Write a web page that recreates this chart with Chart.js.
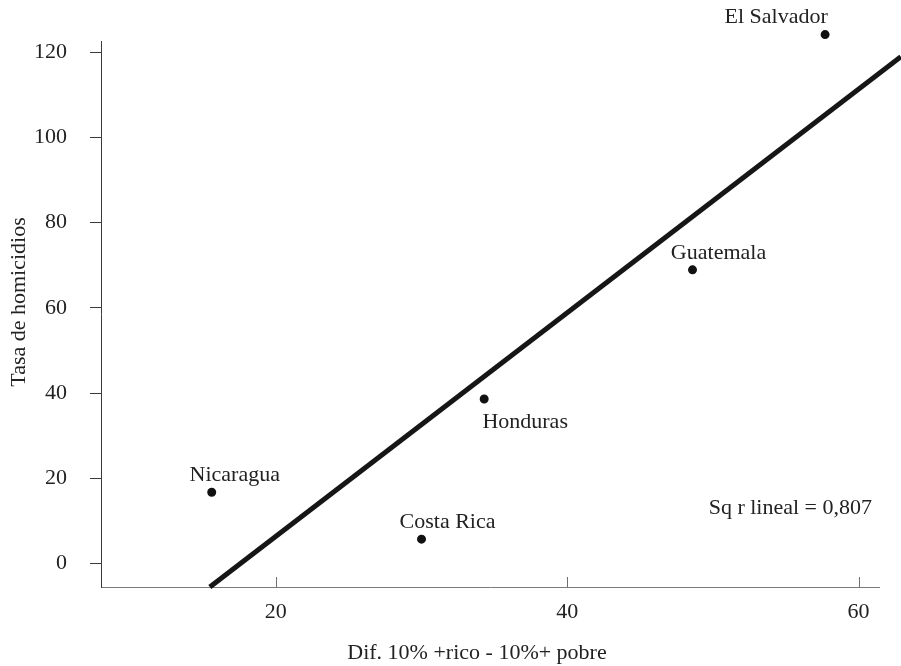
<!DOCTYPE html>
<html>
<head>
<meta charset="utf-8">
<script src="https://cdn.jsdelivr.net/npm/chart.js@4/dist/chart.umd.min.js"></script>
<style>
  html, body { margin: 0; padding: 0; background: #ffffff; }
  #wrap { width: 901px; height: 666px; }
</style>
</head>
<body>
<div id="wrap"><canvas id="homicidios-chart" width="901" height="666"></canvas></div>
<script>
// datos
const paises = ['El Salvador', 'Guatemala', 'Honduras', 'Nicaragua', 'Costa Rica'];
const difRicoPobre = [57.7, 48.6, 34.3, 15.6, 30.0];
const tasaHomicidios = [124.1, 68.9, 38.6, 16.7, 5.7];

// recta de ajuste (extremos)
const ajusteX = [15.47, 62.9];
const ajusteY = [-5.52, 118.9];

const xTicks = [20, 40, 60];
const yTicks = [0, 20, 40, 60, 80, 100, 120];

const textoR2 = 'Sq r lineal = 0,807';
const tituloX = 'Dif. 10% +rico - 10%+ pobre';
const tituloY = 'Tasa de homicidios';

const FONT = '"Liberation Serif", "DejaVu Serif", serif';
const TEXT_COLOR = '#222222';

// desplazamiento de cada etiqueta respecto a su punto (centro x, linea base y)
const offsetsEtiquetas = {
  'El Salvador': [-49, -12],
  'Guatemala': [26, -11],
  'Honduras': [41, 29],
  'Nicaragua': [23, -11],
  'Costa Rica': [26, -11],
};

const extras = {
  id: 'extras',
  afterDraw(chart) {
    const { ctx, chartArea, scales } = chart;
    const x = scales.x;
    const y = scales.y;
    ctx.save();

    // marcas del eje x hacia adentro
    ctx.strokeStyle = '#6e6e6e';
    ctx.lineWidth = 1;
    xTicks.forEach((v) => {
      const px = Math.round(x.getPixelForValue(v)) + 0.5;
      ctx.beginPath();
      ctx.moveTo(px, chartArea.bottom);
      ctx.lineTo(px, chartArea.bottom - 10);
      ctx.stroke();
    });

    ctx.fillStyle = TEXT_COLOR;
    ctx.font = '22px ' + FONT;
    ctx.textBaseline = 'alphabetic';

    // etiquetas de los puntos
    ctx.textAlign = 'center';
    paises.forEach((p, i) => {
      const off = offsetsEtiquetas[p];
      const px = x.getPixelForValue(difRicoPobre[i]);
      const py = y.getPixelForValue(tasaHomicidios[i]);
      ctx.fillText(p, px + off[0], py + off[1]);
    });

    // R cuadrado
    ctx.textAlign = 'right';
    ctx.fillText(textoR2, 872, 514);

    // titulos de ejes
    ctx.textAlign = 'center';
    ctx.fillText(tituloX, 477, 659);

    ctx.translate(25, 302);
    ctx.rotate(-Math.PI / 2);
    ctx.fillText(tituloY, 0, 0);

    ctx.restore();
  },
};

new Chart(document.getElementById('homicidios-chart'), {
  type: 'scatter',
  data: {
    datasets: [
      {
        label: 'Paises',
        data: paises.map((p, i) => ({ x: difRicoPobre[i], y: tasaHomicidios[i] })),
        backgroundColor: '#111111',
        borderColor: '#111111',
        // radio pequeño + borde ancho: asi El Salvador (fuera del area) se sigue dibujando
        pointRadius: 2.5,
        pointBorderWidth: 4,
        clip: false,
      },
      {
        type: 'line',
        label: 'Ajuste lineal',
        data: ajusteX.map((v, i) => ({ x: v, y: ajusteY[i] })),
        borderColor: '#161616',
        borderWidth: 5,
        pointRadius: 0,
        fill: false,
        tension: 0,
        clip: false,
      },
    ],
  },
  options: {
    responsive: false,
    animation: false,
    events: [],
    layout: {
      padding: { top: 41, right: 22, left: 0, bottom: 0 },
    },
    plugins: {
      legend: { display: false },
      tooltip: { enabled: false },
      title: { display: false },
    },
    scales: {
      x: {
        type: 'linear',
        min: 8,
        max: 61.4,
        afterBuildTicks: (s) => { s.ticks = xTicks.map((v) => ({ value: v })); },
        afterFit: (s) => { s.height = 79; },
        grid: { display: false, drawTicks: false },
        border: { display: true, color: '#7a7a7a', width: 1 },
        ticks: {
          padding: 12,
          color: TEXT_COLOR,
          font: { family: FONT, size: 22 },
          maxRotation: 0,
        },
        title: { display: false },
      },
      y: {
        type: 'linear',
        min: -5.52,
        max: 122.6,
        afterBuildTicks: (s) => { s.ticks = yTicks.map((v) => ({ value: v })); },
        afterFit: (s) => { s.width = 101; },
        grid: {
          display: true,
          drawOnChartArea: false,
          drawTicks: true,
          tickLength: 11,
          color: '#3a3a3a',
          tickColor: '#3a3a3a',
        },
        border: { display: true, color: '#3a3a3a', width: 1 },
        ticks: {
          padding: 23,
          color: TEXT_COLOR,
          font: { family: FONT, size: 22 },
        },
        title: { display: false },
      },
    },
  },
  plugins: [extras],
});
</script>
</body>
</html>
